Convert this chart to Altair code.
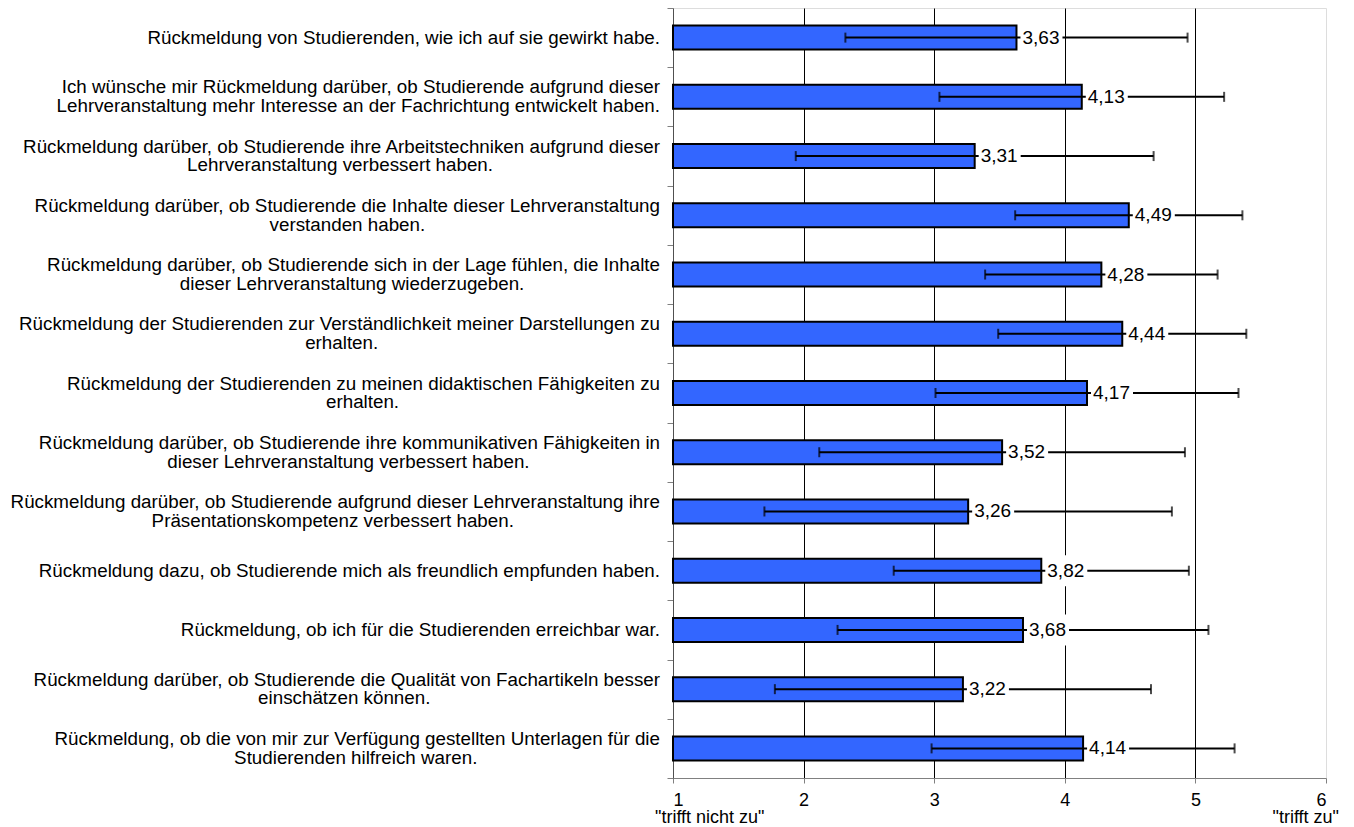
import altair as alt
import pandas as pd

# ---------------- data ----------------
labels = [
    "Rückmeldung von Studierenden, wie ich auf sie gewirkt habe.",
    "Ich wünsche mir Rückmeldung darüber, ob Studierende aufgrund dieser\nLehrveranstaltung mehr Interesse an der Fachrichtung entwickelt haben.",
    "Rückmeldung darüber, ob Studierende ihre Arbeitstechniken aufgrund dieser\nLehrveranstaltung verbessert haben.",
    "Rückmeldung darüber, ob Studierende die Inhalte dieser Lehrveranstaltung\nverstanden haben.",
    "Rückmeldung darüber, ob Studierende sich in der Lage fühlen, die Inhalte\ndieser Lehrveranstaltung wiederzugeben.",
    "Rückmeldung der Studierenden zur Verständlichkeit meiner Darstellungen zu\nerhalten.",
    "Rückmeldung der Studierenden zu meinen didaktischen Fähigkeiten zu\nerhalten.",
    "Rückmeldung darüber, ob Studierende ihre kommunikativen Fähigkeiten in\ndieser Lehrveranstaltung verbessert haben.",
    "Rückmeldung darüber, ob Studierende aufgrund dieser Lehrveranstaltung ihre\nPräsentationskompetenz verbessert haben.",
    "Rückmeldung dazu, ob Studierende mich als freundlich empfunden haben.",
    "Rückmeldung, ob ich für die Studierenden erreichbar war.",
    "Rückmeldung darüber, ob Studierende die Qualität von Fachartikeln besser\neinschätzen können.",
    "Rückmeldung, ob die von mir zur Verfügung gestellten Unterlagen für die\nStudierenden hilfreich waren.",
]
means = [3.63, 4.13, 3.31, 4.49, 4.28, 4.44, 4.17, 3.52, 3.26, 3.82, 3.68, 3.22, 4.14]
sds = [1.31, 1.09, 1.37, 0.87, 0.89, 0.95, 1.16, 1.40, 1.56, 1.13, 1.42, 1.44, 1.16]
x_ticks = [1, 2, 3, 4, 5, 6]
end_values = [1, 6]
end_labels = ['"trifft nicht zu"', '"trifft zu"']

FONT = "Liberation Sans"
LINE_H = 18.7

# ---- centre the lines of each label (Arial / Liberation Sans advance widths) ----
_W = {" ": 278, ",": 278, ".": 278, "-": 333, '"': 355,
      "a": 556, "b": 556, "c": 500, "d": 556, "e": 556, "f": 278, "g": 556, "h": 556,
      "i": 222, "j": 222, "k": 500, "l": 222, "m": 833, "n": 556, "o": 556, "p": 556,
      "q": 556, "r": 333, "s": 500, "t": 278, "u": 556, "v": 500, "w": 722, "x": 500,
      "y": 500, "z": 500, "ä": 556, "ö": 556, "ü": 556, "ß": 611,
      "A": 667, "B": 667, "C": 722, "D": 722, "E": 667, "F": 611, "G": 778, "H": 722,
      "I": 278, "J": 500, "K": 667, "L": 556, "M": 833, "N": 722, "O": 778, "P": 667,
      "Q": 778, "R": 722, "S": 667, "T": 611, "U": 722, "V": 667, "W": 944, "X": 667,
      "Y": 667, "Z": 611}


def _width(s):
    return sum(_W.get(c, 556) for c in s)


def centre(label):
    # pad shorter lines with no-break spaces (closed by a zero-width space so they
    # are not trimmed) so that right-aligned lines appear centred on each other
    lines = label.split("\n")
    if len(lines) == 1:
        return label
    wmax = max(_width(l) for l in lines)
    out = []
    for l in lines:
        n = int(round((wmax - _width(l)) / 2 / 278))
        out.append(l + ("\u00a0" * n + "\u200b" if n > 0 else ""))
    return "\n".join(out)


df = pd.DataFrame({"item": [centre(l) for l in labels], "mean": means, "sd": sds})
df["nl"] = [l.count("\n") + 1 for l in labels]
df["low"] = df["mean"] - df["sd"]
df["high"] = df["mean"] + df["sd"]
df["txt"] = [f"{m:.2f}".replace(".", ",") for m in means]

ends = pd.DataFrame({"v": end_values, "t": end_labels})

# ---------------- scales / axes ----------------
xscale = alt.Scale(domain=[1, 6], nice=False, zero=False)
xaxis = alt.Axis(
    values=x_ticks, title=None, format="d", grid=True,
    gridColor="black", gridWidth=1,
    gridOpacity=alt.condition("datum.value == 1 || datum.value == 6", alt.value(0), alt.value(1)),
    tickSize=5, tickColor="#808080", domainColor="#808080",
    labelFont=FONT, labelFontSize=18, labelColor="black", labelPadding=8,
)
yenc = alt.Y(
    "item:N", sort=None, title=None,
    scale=alt.Scale(paddingInner=0, paddingOuter=0),
    axis=alt.Axis(
        labels=False, tickBand="extent", tickSize=6, tickColor="#808080",
        domainColor="#505050", grid=False,
    ),
)

base = alt.Chart(df)

bars = base.mark_bar(color="#3366FF", stroke="black", strokeWidth=2, size=24).encode(
    x=alt.X("mean:Q", scale=xscale, axis=xaxis),
    x2=alt.datum(1),
    y=yenc,
)
err = base.mark_rule(color="black", strokeWidth=2).encode(
    x=alt.X("low:Q", scale=xscale, axis=xaxis), x2="high:Q", y=yenc
)
cap_lo = base.mark_tick(color="black", size=10, thickness=2).encode(
    x=alt.X("low:Q", scale=xscale, axis=xaxis), y=yenc
)
cap_hi = base.mark_tick(color="black", size=10, thickness=2).encode(
    x=alt.X("high:Q", scale=xscale, axis=xaxis), y=yenc
)
box = base.mark_bar(color="white", size=31, xOffset=4, x2Offset=46).encode(
    x=alt.X("mean:Q", scale=xscale, axis=xaxis), x2="mean:Q", y=yenc
)
vals = base.mark_text(align="left", baseline="middle", dx=6, fontSize=19, font=FONT,
                      color="black").encode(
    x=alt.X("mean:Q", scale=xscale, axis=xaxis), y=yenc, text="txt:N"
)

# category labels (left of the axis), one- and two-line rows
lab1 = base.transform_filter("datum.nl == 1").mark_text(
    align="right", baseline="middle", dx=-13, fontSize=18.8, font=FONT, color="black",
    lineBreak="\n", lineHeight=LINE_H,
).encode(x=alt.value(0), y=yenc, text="item:N")
lab2 = base.transform_filter("datum.nl == 2").mark_text(
    align="right", baseline="middle", dx=-13, dy=-LINE_H / 2, fontSize=18.8, font=FONT,
    color="black", lineBreak="\n", lineHeight=LINE_H,
).encode(x=alt.value(0), y=yenc, text="item:N")

end_base = alt.Chart(ends)
end_left = end_base.transform_filter("datum.v == 1").mark_text(
    align="left", baseline="middle", dx=-18, fontSize=18, font=FONT, color="black"
).encode(x=alt.X("v:Q", scale=xscale, axis=xaxis), y=alt.value(810), text="t:N")
end_right = end_base.transform_filter("datum.v == 6").mark_text(
    align="right", baseline="middle", dx=13, fontSize=18, font=FONT, color="black"
).encode(x=alt.X("v:Q", scale=xscale, axis=xaxis), y=alt.value(810), text="t:N")

chart = alt.layer(bars, err, cap_lo, cap_hi, box, vals, lab1, lab2,
                  end_left, end_right).properties(
    width=653, height=770,
    autosize=alt.AutoSizeParams(type="none"),
    padding={"left": 665, "top": 0, "right": 20, "bottom": 48},
).configure_view(
    fill="#FFFFCC", stroke="#808080", strokeWidth=1.5
).configure(background="white")

chart.save("out.html", embed_options={"renderer": "svg", "actions": False})
